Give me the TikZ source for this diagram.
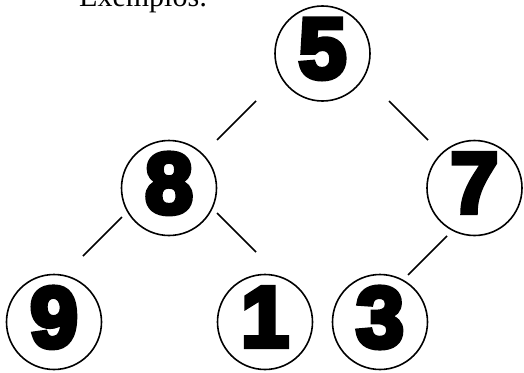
\documentclass[tikz,border=0pt]{standalone}
\usepackage{fontspec}
\setmainfont{Liberation Serif}
\newfontfamily\digitfont[FakeBold=6]{Liberation Sans Bold}
\begin{document}
\begin{tikzpicture}[x=1pt,y=-1pt,
  tnode/.style={circle,draw,line width=1.6pt,minimum size=95pt,inner sep=0pt,
    text depth=10pt,font=\digitfont\fontsize{86}{86}\selectfont},
  edge/.style={line width=1.6pt}]
\useasboundingbox (0,0) rectangle (524,372);
\node[anchor=base west,font=\fontsize{30}{30}\selectfont,inner sep=0pt] (title) at (79,6.5) {Exemplos:};
\node[tnode] (n5) at (322.5,53.5) {5};
\node[tnode] (n8) at (169,188) {8};
\node[tnode] (n7) at (474.5,188) {7};
\node[tnode] (n9) at (54,322) {9};
\node[tnode] (n1) at (265,322) {1};
\node[tnode] (n3) at (380,322) {3};
\coordinate (a1) at (256,101); \coordinate (a2) at (217,140);
\coordinate (b1) at (389,101); \coordinate (b2) at (428,140);
\coordinate (c1) at (122,217); \coordinate (c2) at (83,256);
\coordinate (d1) at (217,213); \coordinate (d2) at (256,252);
\coordinate (e1) at (447,236); \coordinate (e2) at (408,275);
\draw[edge] (a1) -- (a2);
\draw[edge] (b1) -- (b2);
\draw[edge] (c1) -- (c2);
\draw[edge] (d1) -- (d2);
\draw[edge] (e1) -- (e2);
\end{tikzpicture}
\end{document}
